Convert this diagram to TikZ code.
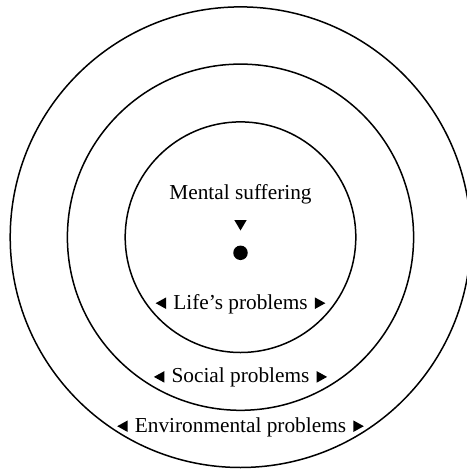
\documentclass[tikz,border=0pt]{standalone}
\usepackage{fontspec}
\setmainfont{Liberation Serif}
\tikzset{
  ring/.style={draw=black, line width=1.5pt},
  lbl/.style={font=\fontsize{21.3}{25}\selectfont, inner sep=0pt, anchor=base},
  tri/.style={fill=black},
}
\newcommand\sidetris[1]{%
  \fill[tri] ([xshift=-7pt]#1.base west) -- ++(0,-11.6) -- ++(-10.5,5.8) -- cycle;
  \fill[tri] ([xshift=7pt]#1.base east) -- ++(0,-11.6) -- ++(10.5,5.8) -- cycle;
}
\begin{document}
\begin{tikzpicture}[x=1pt,y=-1pt]
\useasboundingbox (0,0) rectangle (466,470);
\coordinate (c) at (240.5,237.2);
\draw[ring] (c) circle[radius=230.3];
\draw[ring] (c) circle[radius=173.1];
\draw[ring] (c) circle[radius=115.3];
\node[lbl] (ms) at (240.5,199) {Mental suffering};
\fill[tri] (234.3,220) -- (246.7,220) -- (240.5,230.5) -- cycle;
\node[circle, fill=black, inner sep=0pt, minimum size=14.5pt] (dot) at (240.5,252.8) {};
\node[lbl] (life) at (240.5,309) {Life’s problems};
\node[lbl] (soc) at (240.5,382.7) {Social problems};
\node[lbl] (env) at (240.5,432) {Environmental problems};
\sidetris{life}
\sidetris{soc}
\sidetris{env}
\end{tikzpicture}
\end{document}
